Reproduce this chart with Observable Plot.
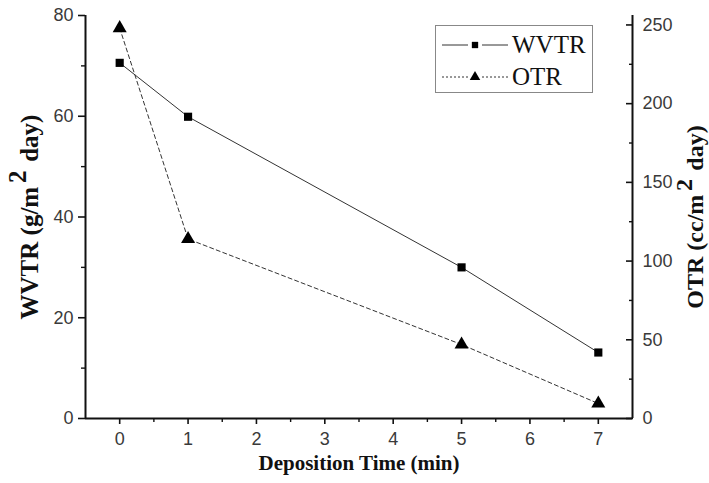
<!DOCTYPE html>
<html>
<head>
<meta charset="utf-8">
<script src="https://cdn.jsdelivr.net/npm/d3@7"></script>
<script src="https://cdn.jsdelivr.net/npm/@observablehq/plot@0.6"></script>
<style>
  html, body { margin: 0; padding: 0; background: #fff; }
  #wrap { position: relative; width: 709px; height: 483px; }
  #legend { position: absolute; left: 435px; top: 25px; width: 156px; height: 66px;
            border: 1px solid #888; background: #fff; font-family: "Liberation Serif", serif; }
  .row { position: absolute; left: 0; height: 30px; display: flex; align-items: center; }
  .row span { font-size: 25px; color: #111; margin-left: 4px; line-height: 30px; }
</style>
</head>
<body>
<div id="wrap">
  <div id="chart"></div>
  <div id="legend"></div>
</div>
<script>
// ---- data ----
const times = [0, 1, 5, 7];
const wvtr = [70.6, 59.9, 30.0, 13.1];      // g/m^2 day (left axis)
const otr = [248, 114, 47, 9.5];            // cc/m^2 day (right axis)
const seriesNames = ["WVTR", "OTR"];

const xDomain = [-0.5, 7.5];
const xTicks = [0, 1, 2, 3, 4, 5, 6, 7];
const xMinorTicks = [0.5, 1.5, 2.5, 3.5, 4.5, 5.5, 6.5];
const leftDomain = [0, 80];
const leftTicks = [0, 20, 40, 60, 80];
const leftMinorTicks = [10, 30, 50, 70];
const rightDomain = [0, 256];
const rightTicks = [0, 50, 100, 150, 200, 250];
const rightMinorTicks = [25, 75, 125, 175, 225];

const xTitle = "Deposition Time (min)";
const leftTitle = ["WVTR (g/m", "2", " day)"];
const rightTitle = ["OTR (cc/m", "2", " day)"];

// map right-axis values onto the left (y) scale
const otrToY = v => v * (leftDomain[1] - leftDomain[0]) / (rightDomain[1] - rightDomain[0]);
const yToOtr = v => v * (rightDomain[1] - rightDomain[0]) / (leftDomain[1] - leftDomain[0]);

const wData = times.map((t, i) => ({t, v: wvtr[i]}));
const oData = times.map((t, i) => ({t, v: otrToY(otr[i])}));

const tickFont = {fontSize: 18, fontFamily: "Liberation Sans, Arial, sans-serif"};
const titleFont = "Liberation Serif, Times New Roman, serif";

const chart = Plot.plot({
  width: 709,
  height: 483,
  marginLeft: 85,
  marginRight: 77,
  marginTop: 15,
  marginBottom: 65,
  x: {domain: xDomain},
  y: {domain: leftDomain},
  style: {background: "#fff", fontFamily: "Liberation Sans, Arial, sans-serif"},
  marks: [
    // axes
    Plot.axisX(xTicks, {tickSize: 6, tickPadding: 8, ...tickFont, fill: "#3a3a3a", stroke: "#111", strokeWidth: 1.6, label: null}),
    Plot.axisX(xMinorTicks, {tickSize: 4, tickFormat: () => "", stroke: "#111", strokeWidth: 1.4, label: null}),
    Plot.axisY(leftTicks, {anchor: "left", tickSize: 7, tickPadding: 5, ...tickFont, fill: "#3a3a3a", stroke: "#111", strokeWidth: 1.6, label: null}),
    Plot.axisY(leftMinorTicks, {anchor: "left", tickSize: 4, tickFormat: () => "", stroke: "#111", strokeWidth: 1.4, label: null}),
    Plot.axisY(rightTicks.map(otrToY), {anchor: "right", tickSize: -7, tickPadding: 17, tickFormat: d => Math.round(yToOtr(d)), ...tickFont, fill: "#3a3a3a", stroke: "#111", strokeWidth: 1.6, label: null}),
    Plot.axisY(rightMinorTicks.map(otrToY), {anchor: "right", tickSize: -4, tickFormat: () => "", stroke: "#111", strokeWidth: 1.4, label: null}),
    Plot.ruleX(xDomain, {stroke: "#111", strokeWidth: 2}),
    Plot.ruleY([leftDomain[0]], {stroke: "#111", strokeWidth: 2}),
    // series
    Plot.line(wData, {x: "t", y: "v", stroke: "#333", strokeWidth: 1}),
    Plot.line(oData, {x: "t", y: "v", stroke: "#333", strokeWidth: 1, strokeDasharray: "4,3"}),
    Plot.dot(wData, {x: "t", y: "v", symbol: "square", r: 4.6, fill: "#000", stroke: "none"}),
    Plot.dot(oData, {x: "t", y: "v", symbol: "triangle", r: 5.2, fill: "#000", stroke: "none"}),
    // titles
    Plot.text([xTitle], {frameAnchor: "bottom", dy: 51, text: d => d, fontSize: 21, fontWeight: "bold", fontFamily: titleFont, fill: "#111"}),
    Plot.text([leftTitle.join("")], {frameAnchor: "left", dx: -56, rotate: -90, textAnchor: "middle", text: d => d, fontSize: 25, fontWeight: "bold", fontFamily: titleFont, fill: "#111"}),
    Plot.text([rightTitle.join("")], {frameAnchor: "right", dx: 63, rotate: -90, textAnchor: "middle", text: d => d, fontSize: 24, fontWeight: "bold", fontFamily: titleFont, fill: "#111"})
  ]
});
document.getElementById("chart").appendChild(chart);

// superscripts in axis titles
function supify(parts) {
  const full = parts.join("");
  d3.select(chart).selectAll("text").filter(function() { return this.textContent === full; })
    .each(function() {
      const t = d3.select(this);
      t.text(null);
      t.append("tspan").text(parts[0]);
      t.append("tspan").attr("dy", "-0.45em").attr("dx", "0.15em").text(parts[1]);
      t.append("tspan").attr("dy", "0.45em").attr("dx", "0.1em").text(parts[2]);
    });
}
supify(leftTitle);
supify(rightTitle);

// legend
const legend = d3.select("#legend");
const rows = [
  {name: seriesNames[0], dash: null, symbol: d3.symbolSquare, size: 40},
  {name: seriesNames[1], dash: "2,2", symbol: d3.symbolTriangle, size: 48}
];
rows.forEach((r, i) => {
  const row = legend.append("div").attr("class", "row").style("top", (i === 0 ? 4 : 36) + "px").style("left", "6px");
  const s = row.append("svg").attr("width", 66).attr("height", 30);
  s.append("line").attr("x1", 0).attr("x2", 26).attr("y1", 15).attr("y2", 15)
    .attr("stroke", "#333").attr("stroke-width", 1).attr("stroke-dasharray", r.dash);
  s.append("line").attr("x1", 40).attr("x2", 66).attr("y1", 15).attr("y2", 15)
    .attr("stroke", "#333").attr("stroke-width", 1).attr("stroke-dasharray", r.dash);
  s.append("path").attr("d", d3.symbol(r.symbol, r.size)()).attr("transform", "translate(33,15)").attr("fill", "#000");
  row.append("span").text(r.name);
});
</script>
</body>
</html>
